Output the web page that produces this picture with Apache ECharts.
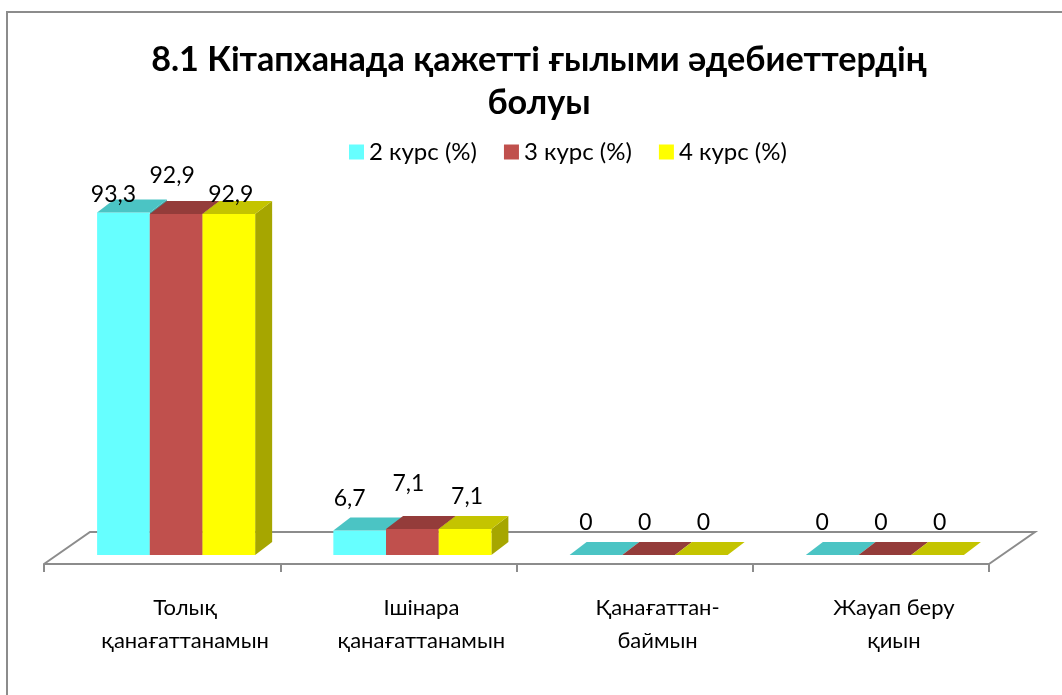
<!DOCTYPE html>
<html>
<head>
<meta charset="utf-8">
<script src="https://cdn.jsdelivr.net/npm/echarts@6/dist/echarts.min.js"></script>
<style>
html,body{margin:0;padding:0;background:#fff;}
#chart{width:1062px;height:695px;}
</style>
</head>
<body>
<div id="chart"></div>
<script>
const categories = ['Толық\nқанағаттанамын', 'Ішінара\nқанағаттанамын', 'Қанағаттан-\nбаймын', 'Жауап беру\nқиын'];
const seriesNames = ['2 курс (%)', '3 курс (%)', '4 курс (%)'];
const course2 = [93.3, 6.7, 0, 0];
const course3 = [92.9, 7.1, 0, 0];
const course4 = [92.9, 7.1, 0, 0];
const titleText = '8.1 Кітапханада қажетті ғылыми әдебиеттердің\nболуы';

const FONT = "Lato, 'Noto Sans', sans-serif";
const frontColors = ['#66FFFF', '#C0504D', '#FFFF00'];
const topColors = ['#4BC4C4', '#943C3A', '#C4C400'];
const sideColors = ['#3FA8A8', '#7E3230', '#A6A600'];
const DX = 14, DY = -9;      // bar front offset from floor front edge
const BDX = 17, BDY = -13;   // bar depth
const FDX = 46, FDY = -32;   // floor depth
const labelDX = [-10, -4, 2];

function fmt(v) { return String(v).replace('.', ','); }

function makeBarSeries(si, data) {
  return {
    name: seriesNames[si],
    type: 'custom',
    itemStyle: { color: frontColors[si] },
    data: data.map((v, i) => [i, v]),
    z: 3 + si,
    renderItem: function (params, api) {
      const cs = params.coordSys;
      const ci = api.value(0), v = api.value(1);
      const band = api.size([1, 0])[0];
      const barW = band * 0.223;
      const base = api.coord([ci, 0]);
      const topPt = api.coord([ci, v]);
      const x0 = base[0] - 1.5 * barW + si * barW + DX;
      const yb = base[1] + DY;
      const yt = topPt[1] + DY;
      const children = [];
      if (yb - yt > 0.5) {
        children.push({
          type: 'polygon',
          shape: { points: [[x0 + barW, yt], [x0 + barW + BDX, yt + BDY], [x0 + barW + BDX, yb + BDY], [x0 + barW, yb]] },
          style: { fill: sideColors[si] }
        });
        children.push({
          type: 'rect',
          shape: { x: x0, y: yt, width: barW, height: yb - yt },
          style: { fill: frontColors[si] }
        });
      }
      children.push({
        type: 'polygon',
        shape: { points: [[x0, yt], [x0 + barW, yt], [x0 + barW + BDX, yt + BDY], [x0 + BDX, yt + BDY]] },
        style: { fill: topColors[si] }
      });
      let ly;
      if (si === 1 && v > 0) {
        ly = Math.max(yt + BDY - 32, cs.y - 21);
      } else {
        ly = Math.max(yt + BDY - 19, cs.y - 2);
      }
      children.push({
        type: 'text',
        z2: 100,
        style: {
          text: fmt(v),
          x: x0 + barW / 2 + labelDX[si],
          y: ly,
          align: 'center',
          verticalAlign: 'middle',
          font: '23px ' + FONT,
          fill: '#000'
        }
      });
      return { type: 'group', children: children };
    }
  };
}

const chart = echarts.init(document.getElementById('chart'), null, { renderer: 'canvas' });
chart.setOption({
  animation: false,
  backgroundColor: '#fff',
  textStyle: { fontFamily: FONT },
  title: {
    text: titleText,
    left: 534,
    textAlign: 'center',
    top: 33,
    textStyle: { fontSize: 34.2, fontWeight: 'bold', color: '#000', lineHeight: 43, fontFamily: FONT }
  },
  legend: {
    top: 135,
    left: 344,
    icon: 'rect',
    itemWidth: 15,
    itemHeight: 15,
    itemGap: 27,
    data: seriesNames,
    textStyle: { fontSize: 24, color: '#000', fontFamily: FONT }
  },
  grid: { left: 44, right: 73, top: 197, bottom: 131 },
  xAxis: {
    type: 'category',
    data: categories,
    axisLine: { show: true, lineStyle: { color: '#8C8C8C', width: 2 } },
    axisTick: { show: true, length: 8, lineStyle: { color: '#8C8C8C', width: 2 } },
    axisLabel: { fontSize: 22, lineHeight: 33, color: '#000', margin: 27, interval: 0, padding: [0, 0, 0, 46], fontFamily: FONT },
    z: 1
  },
  yAxis: { type: 'value', min: 0, max: 100, show: false, splitLine: { show: false } },
  graphic: [{
    type: 'rect',
    shape: { x: 7, y: 12, width: 1100, height: 720 },
    style: { fill: 'none', stroke: '#8C8C8C', lineWidth: 2 },
    silent: true
  }],
  series: [
    {
      type: 'custom',
      name: 'floor',
      data: [[0, 0]],
      z: 1,
      silent: true,
      renderItem: function (params, api) {
        const cs = params.coordSys;
        const fl = [cs.x, cs.y + cs.height];
        const fr = [cs.x + cs.width, cs.y + cs.height];
        return {
          type: 'polyline',
          shape: { points: [fl, [fl[0] + FDX, fl[1] + FDY], [fr[0] + FDX, fr[1] + FDY], fr] },
          style: { stroke: '#8C8C8C', lineWidth: 2, fill: null }
        };
      }
    },
    makeBarSeries(0, course2),
    makeBarSeries(1, course3),
    makeBarSeries(2, course4)
  ]
});
</script>
</body>
</html>
